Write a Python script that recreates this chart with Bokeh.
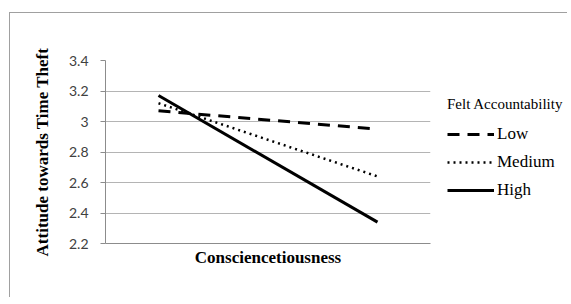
from bokeh.plotting import figure
from bokeh.models import Range1d, FixedTicker, Legend, LegendItem
from bokeh.layouts import row
from bokeh.embed import file_html
from bokeh.resources import INLINE

# Data
conscientiousness = [0, 1]          # low / high conscientiousness
low_acc = [3.07, 2.95]
medium_acc = [3.12, 2.64]
high_acc = [3.17, 2.34]
y_ticks = [2.2, 2.4, 2.6, 2.8, 3.0, 3.2, 3.4]
y_tick_labels = {2.2: "2.2", 2.4: "2.4", 2.6: "2.6", 2.8: "2.8", 3.0: "3", 3.2: "3.2", 3.4: "3.4"}

serif = "Liberation Serif"
H = 285
BORDER = "1px solid #a0a0a0"

p = figure(width=428, height=H, output_backend="svg", toolbar_location=None,
           x_range=Range1d(-0.242, 1.242), y_range=Range1d(2.2, 3.4),
           min_border_left=95, min_border_right=8, min_border_top=47, min_border_bottom=55)
p.margin = (12, 0, 0, 9)
p.styles = {"border-left": BORDER, "border-top": BORDER}
p.outline_line_color = None

# y axis
ya = p.yaxis[0]
ya.ticker = FixedTicker(ticks=y_ticks)
ya.major_label_overrides = y_tick_labels
ya.major_label_text_font = "Lato"
ya.major_label_text_font_size = "14px"
ya.major_label_text_color = "#404040"
ya.major_tick_out = 5
ya.major_tick_in = 0
ya.minor_tick_out = 0
ya.minor_tick_in = 0
ya.major_tick_line_color = "#8c8c8c"
ya.axis_line_color = "#8c8c8c"
ya.major_label_standoff = 12
ya.axis_label = "Attitude towards Time Theft"
ya.axis_label_text_font = serif
ya.axis_label_text_font_style = "bold"
ya.axis_label_text_font_size = "17px"
ya.axis_label_text_color = "black"
ya.axis_label_standoff = 14

# x axis
xa = p.xaxis[0]
xa.ticker = FixedTicker(ticks=[])
xa.major_label_text_font_size = "0px"
xa.major_tick_out = 0
xa.major_tick_in = 0
xa.minor_tick_out = 0
xa.minor_tick_in = 0
xa.axis_line_color = "#8c8c8c"
xa.axis_label = "Consciencetiousness"
xa.axis_label_text_font = serif
xa.axis_label_text_font_style = "bold"
xa.axis_label_text_font_size = "17px"
xa.axis_label_text_color = "black"
xa.axis_label_standoff = 4

p.xgrid.grid_line_color = None
p.ygrid.ticker = FixedTicker(ticks=y_ticks)
p.ygrid.grid_line_color = "#b4b4b4"
p.ygrid.grid_line_width = 1

styles = {
    "Low": dict(line_color="black", line_width=3, line_dash="12 8"),
    "Medium": dict(line_color="black", line_width=2.5, line_dash="2 4"),
    "High": dict(line_color="black", line_width=3),
}
series = {"Low": low_acc, "Medium": medium_acc, "High": high_acc}
for name, vals in series.items():
    p.line(conscientiousness, vals, **styles[name])

# legend panel (separate figure so the legend is not clipped by the plot frame)
lf = figure(width=130, height=H, output_backend="svg", toolbar_location=None,
            min_border=0, x_axis_type=None, y_axis_type=None)
lf.margin = (12, 0, 0, 0)
lf.styles = {"border-top": BORDER}
lf.outline_line_color = None
lf.xgrid.grid_line_color = None
lf.ygrid.grid_line_color = None
items = []
for name, vals in series.items():
    r = lf.line(conscientiousness, vals, visible=False, **styles[name])
    items.append(LegendItem(label=name, renderers=[r]))

legend = Legend(items=items, location=(10, 42), title="Felt Accountability")
legend.title_text_font = serif
legend.title_text_font_size = "15px"
legend.title_text_font_style = "normal"
legend.title_text_color = "black"
legend.title_standoff = 10
legend.label_text_font = serif
legend.label_text_font_size = "17px"
legend.label_text_color = "black"
legend.glyph_width = 47
legend.glyph_height = 22
legend.label_height = 22
legend.label_standoff = 3
legend.spacing = 6
legend.padding = 0
legend.margin = 0
legend.border_line_color = None
legend.background_fill_color = None
lf.add_layout(legend)

lay = row(p, lf)
open("out.html", "w").write(file_html(lay, INLINE))
